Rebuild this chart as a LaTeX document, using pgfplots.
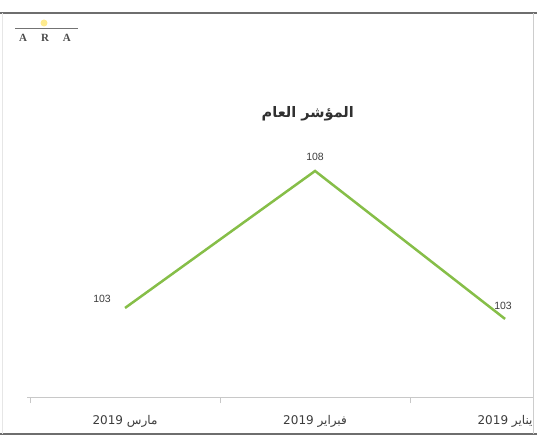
\documentclass[border=0pt]{standalone}
\usepackage{pgfplots}
\pgfplotsset{compat=1.18}
\usepackage{fontspec}
\setmainfont{Liberation Sans}
\newfontfamily\arabicfont[Script=Arabic]{DejaVu Sans}
\newfontfamily\seriffont{Liberation Serif}
\TeXXeTstate=1
\definecolor{linegreen}{RGB}{134,190,72}
\definecolor{txtgray}{RGB}{60,60,60}
\definecolor{framedark}{RGB}{110,110,110}
\definecolor{framelight}{RGB}{205,205,205}
\definecolor{axisgray}{RGB}{200,200,200}
\begin{document}
\begin{tikzpicture}
\useasboundingbox (0,0) rectangle (537pt,436pt);
% frame
\draw[framedark, line width=2pt] (0,423pt) -- (537pt,423pt);
\draw[framedark, line width=2pt] (0,2pt) -- (537pt,2pt);
\draw[framelight, line width=0.8pt] (533pt,2pt) -- (533pt,423pt);
\draw[framelight!50, line width=0.6pt] (2pt,2pt) -- (2pt,423pt);
% logo
\fill[yellow!70!orange, opacity=0.45] (44pt,413pt) circle (3.5pt);
\draw[gray!90!black, line width=0.9pt] (15pt,408pt) -- (78pt,408pt);
\node[font=\seriffont\fontsize{11}{12}\selectfont\bfseries, text=gray!60!black, anchor=center] at (45pt,398pt) {A\hspace{14pt}R\hspace{14pt}A};
\begin{axis}[
  at={(27pt,39pt)}, anchor=south west,
  scale only axis, width=506pt, height=335.6pt,
  x dir=reverse,
  xmin=-0.147, xmax=2.516,
  ymin=99.75, ymax=112,
  axis x line*=bottom, axis y line=none,
  x axis line style={draw=axisgray, line width=0.8pt},
  xtick={0,1,2},
  xticklabels={{\arabicfont\beginR يناير \beginL2019\endL{}\endR},{\arabicfont\beginR فبراير \beginL2019\endL{}\endR},{\arabicfont\beginR مارس \beginL2019\endL{}\endR}},
  major tick length=0pt,
  minor xtick={0.5,1.5,2.5},
  minor tick length=6pt,
  tick align=outside,
  minor tick style={draw=axisgray, line width=0.8pt},
  xticklabel style={font=\fontsize{12}{14}\selectfont, text=txtgray, yshift=-15pt},
  title={\arabicfont\bfseries\beginR المؤشر العام\endR},
  title style={font=\fontsize{14.5}{16}\selectfont, text=txtgray!80!black, at={(0.555,0.855)}, anchor=center, yshift=-10pt},
  clip=false,
]
\addplot[linegreen, line width=2.5pt, mark=none] coordinates {(0,102.6) (1,108.0) (2,103.0)};
\addplot[draw=none, mark=none, nodes near coords={103}, nodes near coords style={font=\fontsize{10.5}{12}\selectfont, text=txtgray, anchor=south, yshift=6pt, xshift=-2pt}] coordinates {(0,102.6)};
\addplot[draw=none, mark=none, nodes near coords={108}, nodes near coords style={font=\fontsize{10.5}{12}\selectfont, text=txtgray, anchor=south, yshift=7pt}] coordinates {(1,108.0)};
\addplot[draw=none, mark=none, nodes near coords={103}, nodes near coords style={font=\fontsize{10.5}{12}\selectfont, text=txtgray, anchor=south, yshift=2pt, xshift=-23pt}] coordinates {(2,103.0)};
\end{axis}
\end{tikzpicture}
\end{document}
